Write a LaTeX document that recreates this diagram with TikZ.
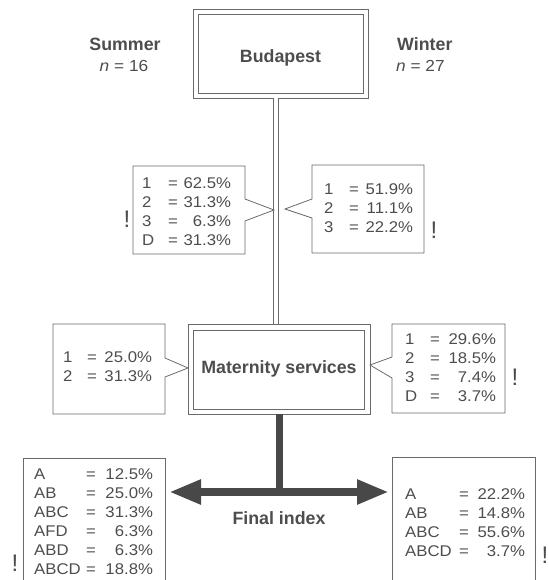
\documentclass[tikz,border=0pt]{standalone}
\usepackage{fontspec}
\setmainfont{Liberation Sans}
\newfontfamily\numfont[FakeStretch=1.08]{Liberation Sans}
\usetikzlibrary{arrows.meta,calc}
\definecolor{ink}{HTML}{4D4D4D}
\definecolor{rulec}{HTML}{6A6A6A}
\definecolor{arrowc}{HTML}{484848}
\newcommand{\crow}[4]{\makebox[#1][l]{#3}=\makebox[#2][r]{#4}}
\begin{document}
\begin{tikzpicture}[x=1pt,y=-1pt,
  outerbox/.style={draw=rulec, line width=0.8pt, inner sep=0pt, outer sep=0pt,
    text=ink, font=\bfseries\fontsize{17.8}{20}\selectfont},
  innerbox/.style={draw=rulec, line width=0.8pt},
  calloutline/.style={draw=rulec, line width=0.8pt, line join=miter},
  tbl/.style={anchor=north west, inner sep=0pt, text=ink, align=left,
    font=\numfont\fontsize{15.5}{19}\selectfont},
  head/.style={text=ink, inner sep=0pt, font=\bfseries\fontsize{17.8}{20}\selectfont},
  nline/.style={text=ink, inner sep=0pt, font=\numfont\fontsize{16}{19}\selectfont},
  bang/.style={text=ink, inner sep=0pt, font=\fontsize{24}{24}\selectfont},
  dblline/.style={draw=rulec, line width=0.8pt, double=white, double distance=4pt},
  thickbar/.style={draw=arrowc, line width=7pt},
  bigarrow/.style={draw=arrowc, line width=8pt,
    {Triangle[length=32pt,width=23pt]}-{Triangle[length=32pt,width=23pt]}}
]
\path[use as bounding box] (0,0) rectangle (548,580);

% main boxes (outer frame as node, inner frame drawn inside)
\node[outerbox, minimum width=175pt, minimum height=89pt, text height=18pt, text depth=0pt]
  (bud) at (280.5,53.5) {Budapest};
\draw[innerbox] ([shift={(5pt,-5.5pt)}]bud.north west) rectangle ([shift={(-5pt,5pt)}]bud.south east);
\node[outerbox, minimum width=182pt, minimum height=90pt]
  (mat) at (279,369) {Maternity services};
\draw[innerbox] ([shift={(5pt,-6pt)}]mat.north west) rectangle ([shift={(-5.5pt,5pt)}]mat.south east);

% headings
\node[head, anchor=base] (summer) at (125,51) {Summer};
\node[nline, anchor=base] (nsum) at (124,72) {\textit{n} = 16};
\node[head, anchor=base west] (winter) at (397,51) {Winter};
\node[nline, anchor=base west] (nwin) at (396,72) {\textit{n} = 27};

% connectors
\coordinate (dl) at (276,0);
\draw[dblline] (bud.south -| dl) -- (mat.north -| dl);
\coordinate (jn) at (279.5,492);
\draw[thickbar] (mat.south -| jn) -- (jn);
\coordinate (lt) at (169,492);
\coordinate (rt) at (389,492);
\draw[bigarrow] (lt) -- (rt);
\node[head, text depth=0pt] (fin) at (279,518) {Final index};

% callout shapes
\draw[calloutline] (133,166) -| (245,199) -- (274,210) -- (245,221) |- (133,254) -- cycle;
\draw[calloutline] (424,165) -| (312,199) -- (285,209) -- (312,218) |- (424,253) -- cycle;
\draw[calloutline] (53,324) -| (165,358) -- (188,368) -- (165,377) |- (53,414) -- cycle;
\draw[calloutline] (505,324) -| (392,357) -- (370,365) -- (392,378) |- (505,413) -- cycle;
\draw[calloutline] (23,580) |- (165,458) -- (165,580);
\draw[calloutline] (392,580) |- (535,457) -- (535,580);

% callout texts
\node[tbl] (s1) at (142,177) {\crow{26pt}{53pt}{1}{62.5\%}\\ \crow{26pt}{53pt}{2}{31.3\%}\\
  \crow{26pt}{53pt}{3}{6.3\%}\\ \crow{26pt}{53pt}{D}{31.3\%}};
\node[tbl] (w1) at (324,183) {\crow{25pt}{54pt}{1}{51.9\%}\\ \crow{25pt}{54pt}{2}{11.1\%}\\
  \crow{25pt}{54pt}{3}{22.2\%}};
\node[tbl] (s2) at (63,351.5) {\crow{24pt}{55pt}{1}{25.0\%}\\ \crow{24pt}{55pt}{2}{31.3\%}};
\node[tbl] (w2) at (405,333.5) {\crow{25pt}{56pt}{1}{29.6\%}\\ \crow{25pt}{56pt}{2}{18.5\%}\\
  \crow{25pt}{56pt}{3}{7.4\%}\\ \crow{25pt}{56pt}{D}{3.7\%}};
\node[tbl] (s3) at (34,468.5) {\crow{52pt}{57pt}{A}{12.5\%}\\ \crow{52pt}{57pt}{AB}{25.0\%}\\
  \crow{52pt}{57pt}{ABC}{31.3\%}\\ \crow{52pt}{57pt}{AFD}{6.3\%}\\
  \crow{52pt}{57pt}{ABD}{6.3\%}\\ \crow{52pt}{57pt}{ABCD}{18.8\%}};
\node[tbl] (w3) at (405,488.5) {\crow{54pt}{56pt}{A}{22.2\%}\\ \crow{54pt}{56pt}{AB}{14.8\%}\\
  \crow{54pt}{56pt}{ABC}{55.6\%}\\ \crow{54pt}{56pt}{ABCD}{3.7\%}};

% exclamation marks
\node[bang] (b1) at (127,219) {!};
\node[bang] (b2) at (434,230) {!};
\node[bang] (b3) at (515,377) {!};
\node[bang] (b4) at (15,563) {!};
\node[bang] (b5) at (545,555) {!};
\end{tikzpicture}
\end{document}
